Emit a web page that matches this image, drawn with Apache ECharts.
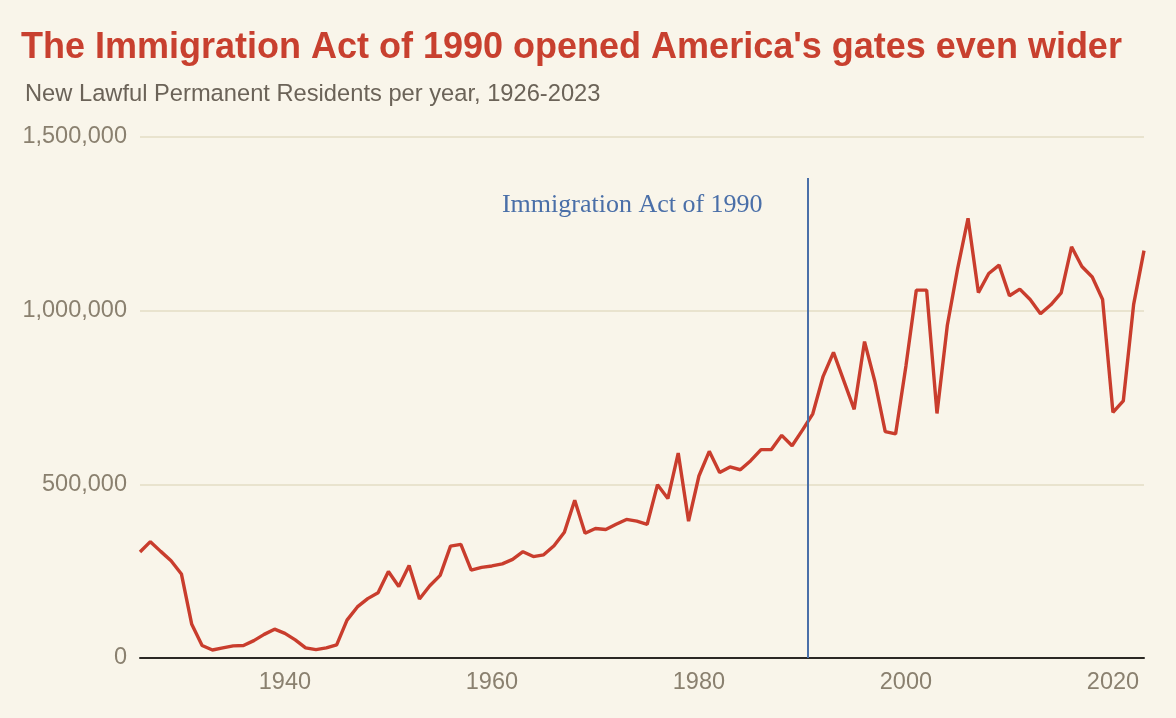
<!DOCTYPE html>
<html>
<head>
<meta charset="utf-8">
<script src="https://cdn.jsdelivr.net/npm/echarts@6.0.0/dist/echarts.min.js"></script>
<style>
  html, body { margin:0; padding:0; background:#f9f5ea; }
  #chart { width:1176px; height:718px; }
</style>
</head>
<body>
<div id="chart"></div>
<script>
const years = [];
for (let y = 1926; y <= 2023; y++) years.push(y);

// New lawful permanent residents per year
const residents = [
  305000, 335000, 307000, 280000, 242000, 97000, 36000, 23000, 29000, 35000,   // 1926-1935
  36000, 50000, 68000, 83000, 71000, 52000, 29000, 24000, 29000, 38000,         // 1936-1945
  109000, 147000, 171000, 188000, 249000, 206000, 266000, 170000, 208000, 238000, // 1946-1955
  322000, 327000, 253000, 261000, 265000, 271000, 284000, 306000, 292000, 297000, // 1956-1965
  323000, 362000, 454000, 359000, 373000, 370000, 385000, 399000, 394000, 385000, // 1966-1975
  499000, 459000, 590000, 394000, 524000, 595000, 534000, 550000, 542000, 568000, // 1976-1985
  600000, 600000, 641000, 611000, 656000, 703000, 811000, 880000, 798000, 716000, // 1986-1995
  911000, 796000, 652000, 645000, 841000, 1059000, 1059000, 704000, 958000, 1122000, // 1996-2005
  1266000, 1052000, 1107000, 1131000, 1043000, 1062000, 1032000, 991000, 1017000, 1051000, // 2006-2015
  1184000, 1127000, 1097000, 1032000, 707000, 740000, 1018000, 1173000            // 2016-2023
];

const yearTicks = [1940, 1960, 1980, 2000, 2020];
const yTicks = [0, 500000, 1000000, 1500000];
const actYear = 1990.5;
const actLabel = 'Immigration Act of 1990';

const chart = echarts.init(document.getElementById('chart'));

chart.setOption({
  backgroundColor: '#f9f5ea',
  animation: false,
  title: [
    {
      text: "The Immigration Act of 1990 opened America's gates even wider",
      left: 16, top: 25,
      textStyle: { fontFamily: 'Liberation Sans, Arial, sans-serif', fontSize: 36, fontWeight: 'bold', color: '#c8402f' }
    },
    {
      text: 'New Lawful Permanent Residents per year, 1926-2023',
      left: 20, top: 77,
      textStyle: { fontFamily: 'Liberation Sans, Arial, sans-serif', fontSize: 23.7, fontWeight: 'normal', color: '#6b6358' }
    }
  ],
  grid: { left: 140, right: 32, top: 137, bottom: 60 },
  xAxis: {
    type: 'value',
    min: 1926, max: 2023,
    axisLine: { show: true, lineStyle: { color: '#2b2824', width: 2 } },
    axisTick: { show: false },
    splitLine: { show: false },
    axisLabel: {
      customValues: yearTicks,
      formatter: v => yearTicks.includes(v) ? String(v) : '',
      margin: 13,
      fontFamily: 'Liberation Sans, Arial, sans-serif', fontSize: 23.5, color: '#8a806f'
    }
  },
  yAxis: {
    type: 'value',
    min: yTicks[0], max: yTicks[yTicks.length - 1], interval: 500000,
    axisLine: { show: false },
    axisTick: { show: false },
    splitLine: { lineStyle: { color: '#e3dcc4', width: 1.5 } },
    axisLabel: {
      formatter: v => v.toLocaleString('en-US'),
      margin: 13,
      fontFamily: 'Liberation Sans, Arial, sans-serif', fontSize: 23.5, color: '#8a806f'
    }
  },
  series: [{
    type: 'line',
    data: years.map((y, i) => [y, residents[i]]),
    showSymbol: false,
    lineStyle: { color: '#c93d2d', width: 3.4 },
    z: 3,
    markLine: {
      silent: true,
      symbol: 'none',
      label: { show: false },
      lineStyle: { color: '#4a6fa8', width: 2, type: 'solid' },
      data: [[{ coord: [actYear, 0] }, { coord: [actYear, 1382000] }]]
    },
    markPoint: {
      silent: true,
      symbol: 'circle', symbolSize: 0,
      data: [{ coord: [actYear, 1305000] }],
      label: {
        show: true, position: 'left', distance: 45,
        formatter: actLabel,
        fontFamily: 'Liberation Serif, Times New Roman, serif', fontSize: 26, color: '#4a6fa8'
      }
    }
  }]
});
</script>
</body>
</html>
